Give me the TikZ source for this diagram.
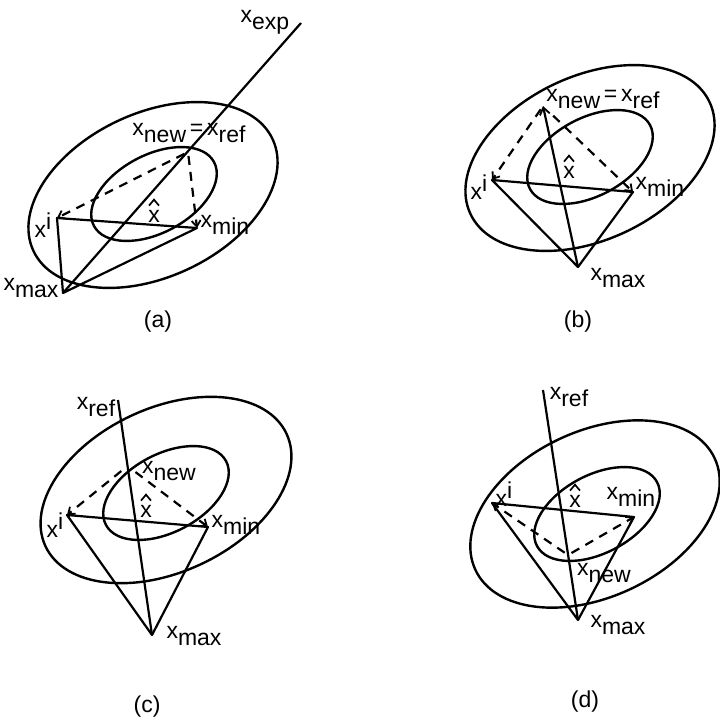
\documentclass[tikz,border=0pt]{standalone}
\usepackage{fontspec}
\setmainfont{Liberation Sans}
\usetikzlibrary{arrows.meta}
\newcommand{\xsb}[1]{x\raisebox{-7pt}{#1}}
\newcommand{\xsp}[1]{x\raisebox{8pt}{#1}}
\begin{document}
\begin{tikzpicture}[x=1pt,y=-1pt,
  ln/.style={line width=2.2pt,line join=round},
  dsh/.style={line width=2.2pt,dash pattern=on 9pt off 7pt,-{Straight Barb[length=6pt,width=9pt,line width=1.8pt]},shorten <=4pt},
  arr/.style={line width=2.2pt,-{Straight Barb[length=7pt,width=10pt,line width=1.8pt]}},
  lab/.style={inner sep=0pt,font=\fontsize{23}{27}\selectfont},
  hatlab/.style={lab,anchor=base},
  hat/.style={line width=1.7pt,line join=miter},
  outer/.style={line width=2.4pt},
  inner/.style={line width=2.4pt}]
\useasboundingbox (0,0) rectangle (720,720);
\fill[white] (0,0) rectangle (720,720);

% ---------------- (a)
\draw[outer,shift={(153,195)},rotate=25] (0,0) ellipse [x radius=132pt,y radius=82pt];
\draw[inner,shift={(154,194)},rotate=28] (0,0) ellipse [x radius=68pt,y radius=39pt];
\coordinate (aXi) at (57,218);
\coordinate (aXmin) at (197,228);
\coordinate (aXmax) at (63,293);
\coordinate (aXnew) at (188,152);
\coordinate (aXexp) at (301,23);
\draw[ln] (aXmax) -- (aXexp);
\draw[ln] (aXi) -- (aXmin) -- (aXmax) -- cycle;
\draw[dsh] (aXnew) -- (aXi);
\draw[dsh] (aXnew) -- (aXmin);
\node[lab] (aLexp) at (265,22) {\xsb{exp}};
\node[lab] (aLnew) at (189,133) {\xsb{new}\,=\,\xsb{ref}};
\node[lab] (aLi) at (43,225) {\xsp{i}};
\node[lab] (aLmin) at (225,225) {\xsb{min}};
\node[lab] (aLmax) at (31,288) {\xsb{max}};
\node[hatlab] (aLhat) at (154,222) {x};
\draw[hat] (aLhat.north) ++(-5,-4) -- ++(5,-6) -- ++(5,6);
\node[lab] (aCap) at (158,322) {(a)};

% ---------------- (b)
\draw[outer,shift={(590,158)},rotate=25] (0,0) ellipse [x radius=132pt,y radius=82pt];
\draw[inner,shift={(590,157)},rotate=28] (0,0) ellipse [x radius=68pt,y radius=39pt];
\coordinate (bXi) at (492,180);
\coordinate (bXmin) at (633,192);
\coordinate (bXmax) at (578,267);
\coordinate (bXnew) at (543,106);
\draw[ln] (bXi) -- (bXmin) -- (bXmax) -- cycle;
\draw[arr] (bXmax) -- (bXnew);
\draw[dsh] (bXnew) -- (bXi);
\draw[dsh,shorten <=14pt] (bXnew) -- (bXmin);
\node[lab] (bLnew) at (603,99) {\xsb{new}\,=\,\xsb{ref}};
\node[lab] (bLi) at (479,187) {\xsp{i}};
\node[lab] (bLmin) at (660,187) {\xsb{min}};
\node[lab] (bLmax) at (618,278) {\xsb{max}};
\node[hatlab] (bLhat) at (569,178) {x};
\draw[hat] (bLhat.north) ++(-5,-4) -- ++(5,-6) -- ++(5,6);
\node[lab] (bCap) at (578,322) {(b)};

% ---------------- (c)
\draw[outer,shift={(166,490)},rotate=25] (0,0) ellipse [x radius=133pt,y radius=82pt];
\draw[inner,shift={(166,493)},rotate=28] (0,0) ellipse [x radius=68pt,y radius=39pt];
\coordinate (cXi) at (67,515);
\coordinate (cXmin) at (208,527);
\coordinate (cXmax) at (152,635);
\coordinate (cXnew) at (127.5,466);
\coordinate (cXref) at (118,400);
\draw[ln] (cXref) -- (cXmax);
\draw[ln] (cXi) -- (cXmin) -- (cXmax) -- cycle;
\draw[dsh,shorten <=8pt] (cXnew) -- (cXi);
\draw[dsh,shorten <=10pt] (cXnew) -- (cXmin);
\node[lab] (cLref) at (96,407) {\xsb{ref}};
\node[lab] (cLnew) at (169,471) {\xsb{new}};
\node[lab] (cLi) at (55,525) {\xsp{i}};
\node[lab] (cLmin) at (236,525) {\xsb{min}};
\node[lab] (cLmax) at (194,636) {\xsb{max}};
\node[hatlab] (cLhat) at (146,517) {x};
\draw[hat] (cLhat.north) ++(-5,-4) -- ++(5,-6) -- ++(5,6);
\node[lab] (cCap) at (147,707) {(c)};

% ---------------- (d)
\draw[outer,shift={(595,514)},rotate=25] (0,0) ellipse [x radius=132pt,y radius=83pt];
\draw[inner,shift={(597,514)},rotate=28] (0,0) ellipse [x radius=68pt,y radius=39pt];
\coordinate (dXi) at (492,503);
\coordinate (dXmin) at (634,517);
\coordinate (dXmax) at (578,620);
\coordinate (dXnew) at (568,555);
\coordinate (dXref) at (543,390);
\draw[ln] (dXref) -- (dXmax);
\draw[ln] (dXi) -- (dXmin) -- (dXmax) -- cycle;
\draw[dsh] (dXnew) -- (dXi);
\draw[dsh] (dXnew) -- (dXmin);
\node[lab] (dLref) at (569,397) {\xsb{ref}};
\node[lab] (dLi) at (504,494) {\xsp{i}};
\node[lab] (dLmin) at (631,497) {\xsb{min}};
\node[lab] (dLnew) at (604,573) {\xsb{new}};
\node[lab] (dLmax) at (618,625) {\xsb{max}};
\node[hatlab] (dLhat) at (575,507) {x};
\draw[hat] (dLhat.north) ++(-5,-4) -- ++(5,-6) -- ++(5,6);
\node[lab] (dCap) at (585,702) {(d)};
\end{tikzpicture}
\end{document}
